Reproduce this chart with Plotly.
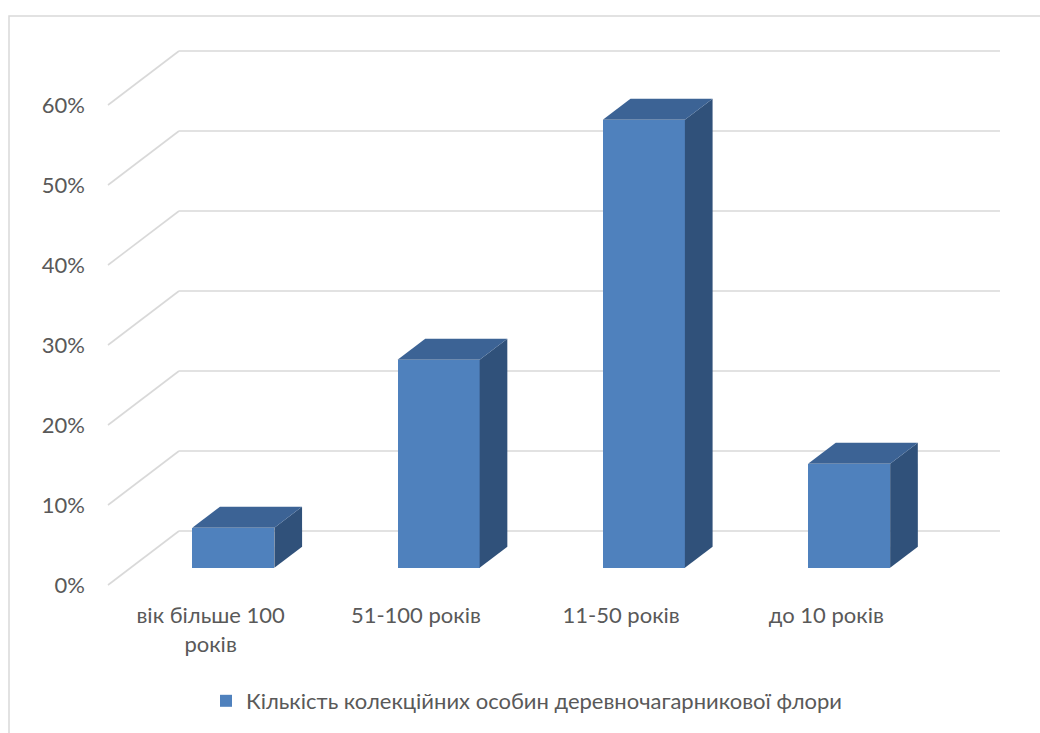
import plotly.graph_objects as go

categories = ["вік більше 100<br>років", "51-100 років", "11-50 років", "до 10 років"]
values = [5, 26, 56, 13]
series_name = "Кількість колекційних особин деревночагарникової флори"
ytick_vals = [0, 10, 20, 30, 40, 50, 60]
ytick_text = ["0%", "10%", "20%", "30%", "40%", "50%", "60%"]

# ---- styling / projection parameters ----
W, H = 1040, 733
PL = 94          # plot area left pixel
PB = 600         # plot area bottom pixel
X0PX = 108       # pixel of x=0 (front plane)
XUNIT = 205.25   # pixels per category
Y0PX = 585       # pixel of y=0 (front plane)
YUNIT = 8.0      # pixels per percent
DX = 71 / XUNIT  # full depth offset (x units)
DY = 54 / YUNIT  # full depth offset (y units)
F = 0.32         # bar front-face depth fraction
G = 0.39         # bar depth fraction
BW = 0.40        # bar width
FRONT = "#4F81BD"
TOP = "#3C6395"
SIDE = "#30517A"
GRID = "#D9D9D9"
TXT = "#595959"
FONT = "Lato"
FS = 22

xmin = -(X0PX - PL) / XUNIT
xmax = xmin + (W - PL) / XUNIT
ymax = Y0PX / YUNIT
ymin = ymax - PB / YUNIT

fig = go.Figure()
ncat = len(values)

# back wall gridlines + side diagonals (below traces)
for v in ytick_vals:
    fig.add_shape(type="line", xref="x", yref="y", x0=0, y0=v, x1=DX, y1=v + DY,
                  line=dict(color=GRID, width=1.6), layer="below")
    fig.add_shape(type="line", xref="x", yref="y", x0=DX, y0=v + DY, x1=ncat + DX, y1=v + DY,
                  line=dict(color=GRID, width=1.6), layer="below")

centers = [i + 0.5 for i in range(ncat)]
fx = [c + F * DX for c in centers]
base = F * DY

# side and top faces
for c, v in zip(fx, values):
    x0, x1 = c - BW / 2, c + BW / 2
    y0, y1 = base, base + v
    ox, oy = G * DX, G * DY
    fig.add_trace(go.Scatter(x=[x1, x1 + ox, x1 + ox, x1, x1], y=[y0, y0 + oy, y1 + oy, y1, y0],
                             fill="toself", fillcolor=SIDE, mode="lines", line=dict(width=0, color=SIDE),
                             hoverinfo="skip", showlegend=False))
    fig.add_trace(go.Scatter(x=[x0, x1, x1 + ox, x0 + ox, x0], y=[y1, y1, y1 + oy, y1 + oy, y1],
                             fill="toself", fillcolor=TOP, mode="lines", line=dict(width=0, color=TOP),
                             hoverinfo="skip", showlegend=False))

# front faces
fig.add_trace(go.Bar(x=fx, y=values, base=[base] * ncat, width=BW, name=series_name,
                     marker=dict(color=FRONT, line=dict(width=0)), showlegend=True))

# chart border
bx0 = (9 - PL) / (W - PL)
bx1 = (W + 10 - PL) / (W - PL)
by1 = (PB - 16) / PB
by0 = (PB - (H + 10)) / PB
fig.add_shape(type="rect", xref="paper", yref="paper", x0=bx0, x1=bx1, y0=by0, y1=by1,
              line=dict(color=GRID, width=1.5), fillcolor="rgba(0,0,0,0)", layer="below")

fig.update_layout(
    width=W, height=H,
    margin=dict(l=PL, r=0, t=0, b=H - PB, pad=0),
    paper_bgcolor="white", plot_bgcolor="white",
    font=dict(family=FONT, size=FS, color=TXT),
    showlegend=True,
    legend=dict(orientation="h", x=(206 - PL) / (W - PL), xanchor="left",
                y=-(701 - PB) / PB, yanchor="middle", font=dict(size=FS, color=TXT),
                itemwidth=30, bgcolor="rgba(0,0,0,0)"),
    xaxis=dict(range=[xmin, xmax], tickvals=centers, ticktext=categories, showgrid=False,
               zeroline=False, showline=False, ticks="", tickfont=dict(size=FS, color=TXT)),
    yaxis=dict(range=[ymin, ymax], tickvals=ytick_vals, ticktext=ytick_text, showgrid=False,
               zeroline=False, showline=False, ticks="", ticklabelstandoff=8,
               tickfont=dict(size=FS, color=TXT)),
    bargap=0,
)

fig.write_html("out.html")
